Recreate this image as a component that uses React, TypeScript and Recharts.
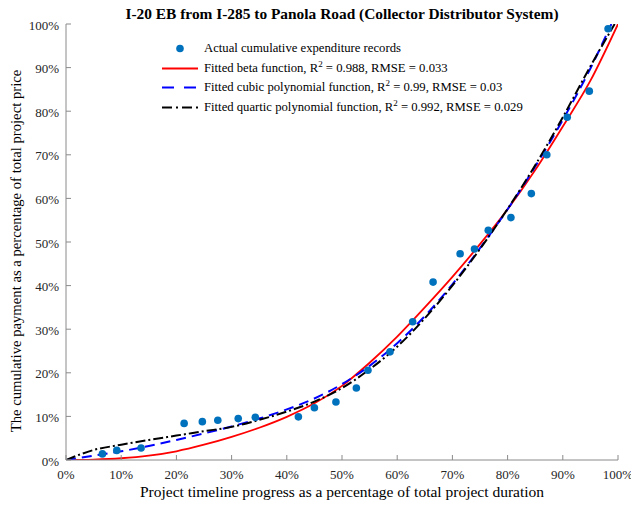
import React from 'react';
import {
  ComposedChart,
  Line,
  Scatter,
  XAxis,
  YAxis,
  Legend,
  Label,
} from 'recharts';

// Observed cumulative expenditure records (% of duration, % of price)
const recordX = [6.6, 9.2, 13.6, 21.4, 24.7, 27.5, 31.2, 34.3, 42.1, 45.0, 48.9, 52.6, 54.7, 58.7, 62.8, 66.5, 71.4, 74.0, 76.5, 80.6, 84.3, 87.1, 90.8, 94.8, 98.2];
const recordY = [1.4, 2.2, 2.75, 8.4, 8.8, 9.1, 9.5, 9.8, 9.9, 12.0, 13.3, 16.5, 20.6, 24.8, 31.7, 40.8, 47.3, 48.4, 52.7, 55.6, 61.1, 70.0, 78.6, 84.6, 98.9];

// Fitted curves sampled along the timeline
const betaX = [0, 5, 10, 15, 20, 25, 30, 35, 40, 45, 50, 55, 60, 65, 70, 75, 80, 85, 90, 95, 100];
const betaY = [0, 0.1, 0.4, 1.0, 2.0, 3.5, 5.3, 7.4, 9.9, 13.0, 17.0, 22.3, 28.3, 35.0, 42.0, 49.5, 57.5, 66.5, 76.5, 87.0, 100];

const cubicX = [0, 5, 10, 15, 20, 25, 30, 35, 40, 45, 50, 55, 60, 65, 70, 75, 80, 85, 90, 95, 98.8];
const cubicY = [0, 1.0, 2.0, 3.2, 4.6, 6.1, 7.7, 9.5, 11.6, 14.1, 17.4, 21.6, 26.8, 33.0, 40.3, 48.6, 57.5, 67.3, 78.0, 89.8, 100];

const quarticX = [0, 5, 10, 15, 20, 25, 30, 35, 40, 45, 50, 55, 60, 65, 70, 75, 80, 85, 90, 95, 99.4];
const quarticY = [0, 2.3, 3.5, 4.6, 5.6, 6.6, 7.6, 9.2, 11.1, 13.4, 16.5, 20.8, 26.0, 32.5, 40.0, 48.4, 57.6, 67.6, 78.6, 90.3, 100];

const percentTicks = [0, 10, 20, 30, 40, 50, 60, 70, 80, 90, 100];

const title = 'I-20 EB from I-285 to Panola Road (Collector Distributor System)';
const xTitle = 'Project timeline progress as a percentage of total project duration';
const yTitle = 'The cumulative payment as a percentage of total project price';

const legendItems = [
  { kind: 'marker', label: 'Actual cumulative expenditure records' },
  { kind: 'beta', label: 'Fitted beta function, R', r2: '0.988', rmse: '0.033' },
  { kind: 'cubic', label: 'Fitted cubic polynomial function, R', r2: '0.99', rmse: '0.03' },
  { kind: 'quartic', label: 'Fitted quartic polynomial function, R', r2: '0.992', rmse: '0.029' },
];

const toPoints = (xs: number[], ys: number[]) => xs.map((x, i) => ({ x, y: ys[i] }));

const records = toPoints(recordX, recordY);
const beta = toPoints(betaX, betaY);
const cubic = toPoints(cubicX, cubicY);
const quartic = toPoints(quarticX, quarticY);

const FONT = 'Liberation Serif';
const AXIS = '#8a8a8a';
const TICK_TEXT = '#262626';
const DOT = '#0072BD';

const BottomTick = (props: any) => {
  const { x, y, payload } = props;
  return (
    <g>
      <line x1={x} y1={y} x2={x} y2={y - 5} stroke={AXIS} strokeWidth={1} />
      <text x={x} y={y + 18.5} textAnchor="middle" style={{ fontFamily: FONT }} fontSize={13} fill={TICK_TEXT}>
        {payload.value}%
      </text>
    </g>
  );
};

const LeftTick = (props: any) => {
  const { x, y, payload } = props;
  return (
    <g>
      <line x1={x} y1={y} x2={x + 5} y2={y} stroke={AXIS} strokeWidth={1} />
      <text x={x - 7} y={y + 5.5} textAnchor="end" style={{ fontFamily: FONT }} fontSize={13} fill={TICK_TEXT}>
        {payload.value}%
      </text>
    </g>
  );
};

const TopTick = (props: any) => {
  const { x, y } = props;
  return <line x1={x} y1={y} x2={x} y2={y + 5} stroke={AXIS} strokeWidth={1} />;
};

const RightTick = (props: any) => {
  const { x, y } = props;
  return <line x1={x} y1={y} x2={x - 5} y2={y} stroke={AXIS} strokeWidth={1} />;
};

const LegendIcon = ({ kind }: { kind: string }) => (
  <svg width={44} height={19} style={{ display: 'block', flex: '0 0 auto' }}>
    {kind === 'marker' && <circle cx={20} cy={9.5} r={3.8} fill={DOT} />}
    {kind === 'beta' && <line x1={2} y1={9.5} x2={38} y2={9.5} stroke="#FF0000" strokeWidth={1.8} />}
    {kind === 'cubic' && (
      <line x1={2} y1={9.5} x2={38} y2={9.5} stroke="#0000FF" strokeWidth={2} strokeDasharray="12 10" />
    )}
    {kind === 'quartic' && (
      <line x1={2} y1={9.5} x2={38} y2={9.5} stroke="#000000" strokeWidth={2} strokeDasharray="10 4 2 4" />
    )}
  </svg>
);

const LegendBox = () => (
  <div style={{ fontFamily: FONT, fontSize: 12.7, color: '#000', lineHeight: '19.5px' }}>
    {legendItems.map((item) => (
      <div key={item.kind} style={{ display: 'flex', alignItems: 'center', height: 19.5, whiteSpace: 'nowrap' }}>
        <LegendIcon kind={item.kind} />
        <span>
          {item.label}
          {item.r2 !== undefined && (
            <>
              <sup style={{ fontSize: 9, lineHeight: 0 }}>2</sup>
              {` = ${item.r2}, RMSE = ${item.rmse}`}
            </>
          )}
        </span>
      </div>
    ))}
  </div>
);

const YTitle = (props: any) => {
  const { viewBox } = props;
  const cy = viewBox.y + viewBox.height / 2 + 9;
  return (
    <text
      x={16}
      y={cy}
      transform={`rotate(-90, 16, ${cy})`}
      textAnchor="middle"
      dominantBaseline="central"
      style={{ fontFamily: FONT }}
      fontSize={14.7}
      fill="#000"
    >
      {yTitle}
    </text>
  );
};

// Axis title below the plot plus the chart heading above it
const XTitles = (props: any) => {
  const { viewBox } = props;
  const cx = viewBox.x + viewBox.width / 2;
  return (
    <g>
      <text x={cx} y={497} textAnchor="middle" style={{ fontFamily: FONT }} fontSize={15.5} fill="#000">
        {xTitle}
      </text>
      <text x={cx} y={18.5} textAnchor="middle" style={{ fontFamily: FONT }} fontSize={15.4} fontWeight="bold" fill="#000">
        {title}
      </text>
    </g>
  );
};

export default function App() {
  return (
    <div style={{ position: 'fixed', left: 0, top: 0, width: 631, height: 506, background: '#fff' }}>
      <ComposedChart width={631} height={506} margin={{ top: 24, right: 13, bottom: 0, left: 0 }}>
        <XAxis
          type="number"
          dataKey="x"
          domain={[0, 100]}
          ticks={percentTicks}
          interval={0}
          height={46}
          tickSize={0}
          tickMargin={0}
          tickLine={false}
          axisLine={{ stroke: AXIS }}
          tick={<BottomTick />}
          allowDataOverflow
        >
          <Label content={<XTitles />} />
        </XAxis>
        <XAxis
          xAxisId="top"
          orientation="top"
          type="number"
          domain={[0, 100]}
          ticks={percentTicks}
          interval={0}
          height={0}
          tickSize={0}
          tickMargin={0}
          tickLine={false}
          axisLine={{ stroke: AXIS }}
          tick={<TopTick />}
        />
        <YAxis
          type="number"
          domain={[0, 100]}
          ticks={percentTicks}
          interval={0}
          width={66}
          tickSize={0}
          tickMargin={0}
          tickLine={false}
          axisLine={{ stroke: AXIS }}
          tick={<LeftTick />}
          allowDataOverflow
        >
          <Label content={<YTitle />} />
        </YAxis>
        <YAxis
          yAxisId="right"
          orientation="right"
          type="number"
          domain={[0, 100]}
          ticks={percentTicks}
          interval={0}
          width={0}
          tickSize={0}
          tickMargin={0}
          tickLine={false}
          axisLine={{ stroke: AXIS }}
          tick={<RightTick />}
        />
        <Legend
          layout="vertical"
          align="center"
          verticalAlign="middle"
          content={<LegendBox />}
          wrapperStyle={{ position: 'absolute', left: 160, top: 39, width: 'auto', height: 'auto' }}
        />
        <Scatter
          name="records"
          data={records}
          dataKey="y"
          fill={DOT}
          isAnimationActive={false}
          shape={(p: any) => <circle cx={p.cx} cy={p.cy} r={3.8} fill={DOT} />}
        />
        <Line
          name="beta"
          data={beta}
          dataKey="y"
          type="monotone"
          stroke="#FF0000"
          strokeWidth={1.8}
          dot={false}
          activeDot={false}
          isAnimationActive={false}
        />
        <Line
          name="cubic"
          data={cubic}
          dataKey="y"
          type="monotone"
          stroke="#0000FF"
          strokeWidth={2}
          strokeDasharray="10 6"
          dot={false}
          activeDot={false}
          isAnimationActive={false}
        />
        <Line
          name="quartic"
          data={quartic}
          dataKey="y"
          type="monotone"
          stroke="#000000"
          strokeWidth={2}
          strokeDasharray="10 3 2 3"
          dot={false}
          activeDot={false}
          isAnimationActive={false}
        />
      </ComposedChart>
    </div>
  );
}
